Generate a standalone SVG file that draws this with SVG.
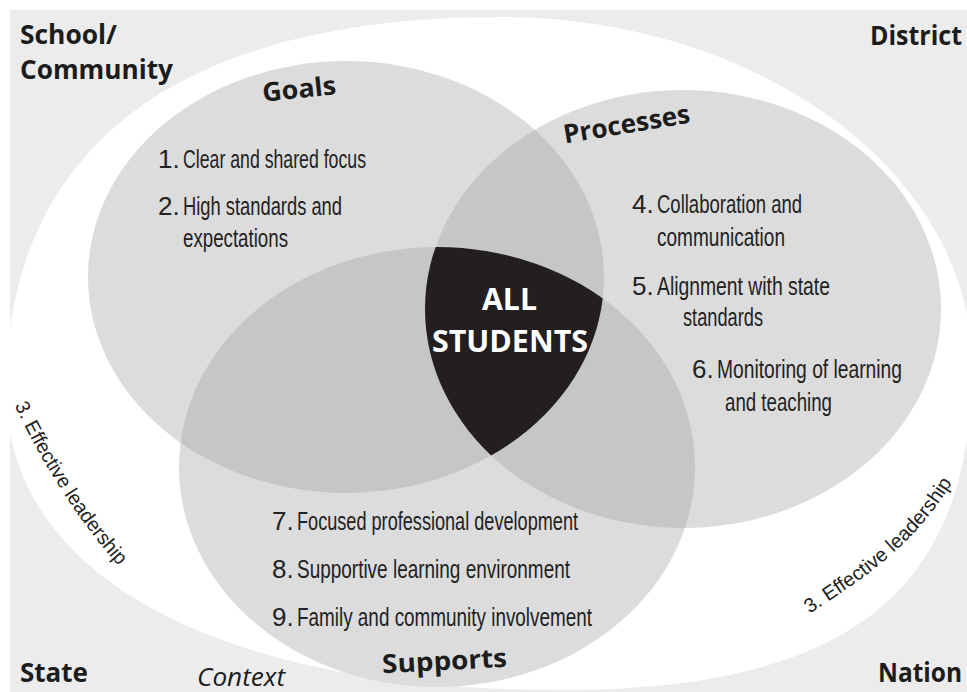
<svg xmlns="http://www.w3.org/2000/svg" width="967" height="692" viewBox="0 0 967 692">
<style>
.item{font-family:"Liberation Sans Narrow","Liberation Sans",Arial,sans-serif;font-size:26px;fill:#222222}
.head{font-family:"Open Sans","Liberation Sans",Arial,sans-serif;font-weight:700;font-size:26px;fill:#1c1c1c}
.ctx{font-family:"Open Sans","Liberation Sans",Arial,sans-serif;font-style:italic;font-size:25px;fill:#1c1c1c}
.lead{font-family:"Liberation Sans Narrow","Liberation Sans",Arial,sans-serif;font-size:20px;fill:#222222}
.ctr{font-family:"Open Sans","Liberation Sans",Arial,sans-serif;font-weight:700;font-size:30px;fill:#ffffff}
.one{fill:#dcdcdd}
.two{fill:#c6c6c8}
</style>
<defs>
<ellipse id="eG" cx="346" cy="277" rx="258" ry="216"/>
<ellipse id="eP" cx="683" cy="309" rx="258" ry="219"/>
<ellipse id="eS" cx="437" cy="467" rx="258" ry="220"/>
<clipPath id="cG"><ellipse cx="346" cy="277" rx="258" ry="216"/></clipPath>
<clipPath id="cP"><ellipse cx="683" cy="309" rx="258" ry="219"/></clipPath>
<clipPath id="cS"><ellipse cx="437" cy="467" rx="258" ry="220"/></clipPath>
<path id="leadL" d="M 12 400 C 35 450, 75 520, 127 575"/>
<path id="leadR" d="M 806 616 C 866 577, 915 545, 955 478"/>
</defs>

<g id="context">
<rect x="10" y="10" width="957" height="682" fill="#ececec"/>
<path d="M 6 390 C 6 147.5, 179 17, 500 17 C 760 17, 972 174, 972 365 C 972 592.5, 848 690, 560 690 C 216.5 690, 6 576, 6 390 Z" fill="#ffffff"/>
<text class="head" x="20" y="44" textLength="97" lengthAdjust="spacingAndGlyphs">School/</text>
<text class="head" x="20" y="79" textLength="153" lengthAdjust="spacingAndGlyphs">Community</text>
<text class="head" x="870" y="45" textLength="92" lengthAdjust="spacingAndGlyphs">District</text>
<text class="head" x="20" y="682" textLength="68" lengthAdjust="spacingAndGlyphs">State</text>
<text class="head" x="878" y="682" textLength="84" lengthAdjust="spacingAndGlyphs">Nation</text>
<text class="ctx" x="197" y="686" textLength="88" lengthAdjust="spacingAndGlyphs">Context</text>
<text class="lead"><textPath href="#leadL" startOffset="6" textLength="192" lengthAdjust="spacingAndGlyphs">3. Effective leadership</textPath></text>
<text class="lead"><textPath href="#leadR" startOffset="4" textLength="196" lengthAdjust="spacingAndGlyphs">3. Effective leadership</textPath></text>
</g>

<g id="goals">
<use href="#eG" class="one"/>
</g>
<g id="processes">
<use href="#eP" class="one"/>
</g>
<g id="supports">
<use href="#eS" class="one"/>
</g>

<g id="overlaps">
<use href="#eG" class="two" clip-path="url(#cP)"/>
<use href="#eG" class="two" clip-path="url(#cS)"/>
<use href="#eP" class="two" clip-path="url(#cS)"/>
</g>

<g id="all-students">
<g clip-path="url(#cP)"><use href="#eS" fill="#231f20" clip-path="url(#cG)"/></g>
<text class="ctr" x="509.5" y="310" text-anchor="middle" textLength="55" lengthAdjust="spacingAndGlyphs">ALL</text>
<text class="ctr" x="510" y="352" text-anchor="middle" textLength="156" lengthAdjust="spacingAndGlyphs">STUDENTS</text>
</g>

<g id="goals-text">
<text class="head" x="300" y="98" text-anchor="middle" transform="rotate(-6 300 98)" textLength="74" lengthAdjust="spacingAndGlyphs">Goals</text>
<text class="item" x="158" y="168">1.</text>
<text class="item" x="183" y="168" textLength="183" lengthAdjust="spacingAndGlyphs">Clear and shared focus</text>
<text class="item" x="158" y="215">2.</text>
<text class="item" x="183" y="215" textLength="159" lengthAdjust="spacingAndGlyphs">High standards and</text>
<text class="item" x="183" y="247" textLength="105" lengthAdjust="spacingAndGlyphs">expectations</text>
</g>

<g id="processes-text">
<text class="head" x="628" y="133" text-anchor="middle" transform="rotate(-9.5 628 133)" textLength="128" lengthAdjust="spacingAndGlyphs">Processes</text>
<text class="item" x="632" y="213">4.</text>
<text class="item" x="657" y="213" textLength="145" lengthAdjust="spacingAndGlyphs">Collaboration and</text>
<text class="item" x="657" y="246" textLength="128" lengthAdjust="spacingAndGlyphs">communication</text>
<text class="item" x="632" y="295">5.</text>
<text class="item" x="657" y="295" textLength="173" lengthAdjust="spacingAndGlyphs">Alignment with state</text>
<text class="item" x="683" y="326" textLength="80" lengthAdjust="spacingAndGlyphs">standards</text>
<text class="item" x="692" y="378">6.</text>
<text class="item" x="717" y="378" textLength="185" lengthAdjust="spacingAndGlyphs">Monitoring of learning</text>
<text class="item" x="725" y="411" textLength="107" lengthAdjust="spacingAndGlyphs">and teaching</text>
</g>

<g id="supports-text">
<text class="head" x="445" y="670" text-anchor="middle" transform="rotate(-3 445 670)" textLength="125" lengthAdjust="spacingAndGlyphs">Supports</text>
<text class="item" x="272" y="530">7.</text>
<text class="item" x="297" y="530" textLength="281" lengthAdjust="spacingAndGlyphs">Focused professional development</text>
<text class="item" x="272" y="578">8.</text>
<text class="item" x="297" y="578" textLength="273" lengthAdjust="spacingAndGlyphs">Supportive learning environment</text>
<text class="item" x="272" y="626">9.</text>
<text class="item" x="297" y="626" textLength="295" lengthAdjust="spacingAndGlyphs">Family and community involvement</text>
</g>

<g id="connectors"/>
</svg>
